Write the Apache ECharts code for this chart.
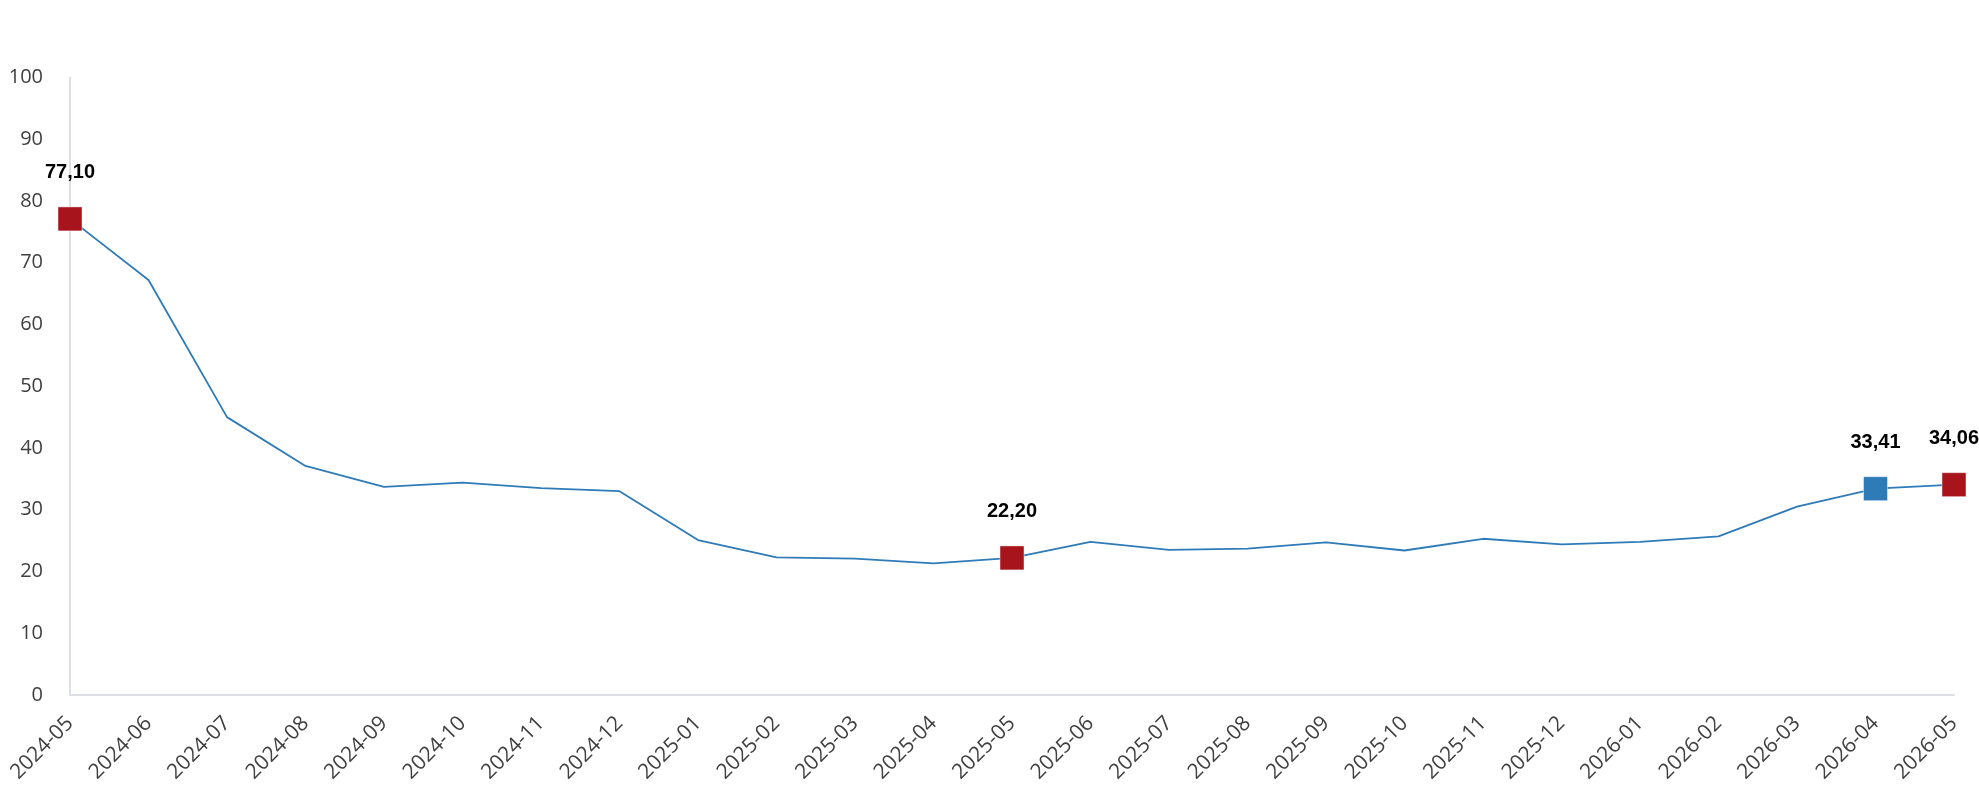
<!DOCTYPE html>
<html>
<head>
<meta charset="utf-8">
<script src="https://cdn.jsdelivr.net/npm/echarts@6/dist/echarts.min.js"></script>
<style>
html,body{margin:0;padding:0;background:#fff;}
#chart{width:1979px;height:800px;}
</style>
</head>
<body>
<div id="chart"></div>
<script>
const categories = ["2024-05","2024-06","2024-07","2024-08","2024-09","2024-10","2024-11","2024-12",
  "2025-01","2025-02","2025-03","2025-04","2025-05","2025-06","2025-07","2025-08","2025-09","2025-10",
  "2025-11","2025-12","2026-01","2026-02","2026-03","2026-04","2026-05"];
const values = [77.10,67.2,45.0,37.1,33.7,34.4,33.5,33.0,25.1,22.3,22.1,21.3,22.20,24.8,23.5,23.7,24.7,23.4,25.3,24.4,24.8,25.7,30.5,33.41,34.06];
const redMarkers = [0, 12, 24];
const blueMarkers = [23];
const yTicks = [0, 100, 10];

const RED = '#A8141C', BLUE = '#2E7BB8';
const data = values.map((v, i) => {
  const isRed = redMarkers.includes(i), isBlue = blueMarkers.includes(i);
  if (!isRed && !isBlue) return { value: v, symbol: 'none', label: { show: false } };
  return {
    value: v,
    symbol: 'rect',
    symbolSize: 24,
    itemStyle: { color: isRed ? RED : BLUE, borderColor: 'rgba(255,255,255,0.45)', borderWidth: 1 },
    label: { show: true }
  };
});

const chart = echarts.init(document.getElementById('chart'), null, { renderer: 'canvas' });
chart.setOption({
  animation: false,
  grid: { left: 70, right: 25, top: 77.5, bottom: 105, containLabel: false },
  xAxis: {
    type: 'category',
    data: categories,
    boundaryGap: false,
    axisLine: { show: true, lineStyle: { color: '#DDE1E7', width: 2 } },
    axisTick: { show: false },
    splitLine: { show: false },
    axisLabel: { rotate: 45, interval: 0, margin: 25, fontFamily: 'Open Sans', fontSize: 21, color: '#404040' }
  },
  yAxis: {
    type: 'value',
    min: yTicks[0], max: yTicks[1], interval: yTicks[2],
    axisLine: { show: true, lineStyle: { color: '#DDE1E7', width: 2 } },
    axisTick: { show: false },
    splitLine: { show: false },
    axisLabel: { margin: 27, fontFamily: 'Open Sans', fontSize: 20, color: '#404040' }
  },
  series: [{
    type: 'line',
    data: data,
    showSymbol: true,
    lineStyle: { color: BLUE, width: 1.8 },
    itemStyle: { color: BLUE },
    label: {
      position: 'top', distance: 24,
      fontFamily: 'Liberation Sans', fontWeight: 'bold', fontSize: 20, color: '#000',
      formatter: p => p.value.toFixed(2).replace('.', ',')
    },
    z: 3
  }]
});
</script>
</body>
</html>
